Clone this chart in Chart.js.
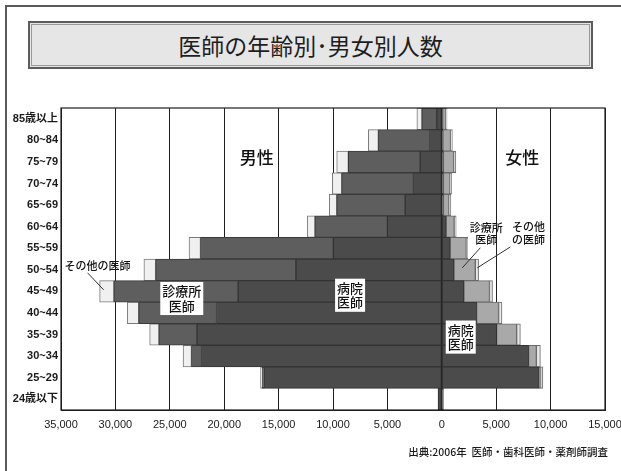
<!DOCTYPE html>
<html lang="ja">
<head>
<meta charset="utf-8">
<title>医師の年齢別・男女別人数</title>
<script src="https://cdn.jsdelivr.net/npm/chart.js@4.4.1/dist/chart.umd.min.js"></script>
<style>
  html, body { margin: 0; padding: 0; background: #fff; }
  #page { position: relative; width: 621px; height: 471px; overflow: hidden; background: #fff; }
  #frame { position: absolute; left: 5px; top: 5px; width: 640px; height: 500px;
           border-top: 2px solid #5a5a5a; border-left: 2px solid #5a5a5a; }
  #title { position: absolute; left: 28px; top: 21px; width: 565px; height: 48px; box-sizing: border-box;
           background: #e6e6e6; border: 2px solid #5c5c5c; outline: 1px solid #9a9a9a; outline-offset: -4px;
           font-family: "Noto Sans CJK JP", sans-serif; font-size: 23px; color: #1e1e1e;
           text-align: center; line-height: 44px; }
  #source { position: absolute; right: 13px; top: 444px; font-family: "Noto Sans CJK JP", sans-serif;
            font-size: 10.5px; font-weight: 500; color: #1a1a1a; white-space: pre; }
  canvas { position: absolute; left: 0; top: 0; }
</style>
</head>
<body>
<div id="page">
  <div id="frame"></div>
  <div id="title">医師の年齢別･男女別人数</div>
  <canvas id="chart" width="621" height="471"></canvas>
  <div id="source">出典:2006年  医師・歯科医師・薬剤師調査</div>
</div>
<script>
// Age groups, oldest at the top
const ageGroups = ['85歳以上', '80~84', '75~79', '70~74', '65~69', '60~64', '55~59',
                   '50~54', '45~49', '40~44', '35~39', '30~34', '25~29', '24歳以下'];

// Male doctors (persons) by workplace
const maleHospital = [460, 1130, 1990, 2610, 3370, 5000, 9970, 13410, 18720, 20710, 22500, 22090, 16350, 350];
const maleClinic   = [1370, 4700, 6600, 6590, 6290, 6660, 12210, 12890, 11420, 7150, 3500, 920, 150, 0];
const maleOther    = [460, 920, 1070, 860, 680, 710, 1050, 1080, 1310, 1040, 850, 770, 160, 0];

// Female doctors (persons) by workplace
const femaleHospital = [80, 100, 150, 150, 150, 400, 770, 1120, 2030, 3200, 5040, 7980, 8950, 150];
const femaleClinic   = [300, 700, 950, 600, 500, 740, 1480, 1960, 2350, 2020, 1840, 710, 120, 0];
const femaleOther    = [100, 170, 190, 150, 180, 180, 140, 300, 280, 310, 340, 370, 220, 0];

// Axis range
const axisMin = -35000, axisMax = 15000, axisStep = 5000;

const neg = arr => arr.map(v => -v);

const barStyle = (fill, edge) => ({
  backgroundColor: fill, borderColor: edge, borderWidth: 1, borderSkipped: false,
  barPercentage: 1.0, categoryPercentage: 1.0, stack: 'all'
});

const datasets = [
  { label: '病院医師(男)',   data: neg(maleHospital), ...barStyle('#4b4b4b', '#333333') },
  { label: '診療所医師(男)', data: neg(maleClinic),   ...barStyle('#5e5e5e', '#3a3a3a') },
  { label: 'その他の医師(男)', data: neg(maleOther),  ...barStyle('#f0f0f0', '#7a7a7a') },
  { label: '病院医師(女)',   data: femaleHospital,    ...barStyle('#4b4b4b', '#333333') },
  { label: '診療所医師(女)', data: femaleClinic,      ...barStyle('#a9a9a9', '#6a6a6a') },
  { label: 'その他の医師(女)', data: femaleOther,     ...barStyle('#e6e6e6', '#6a6a6a') }
];

// Labels placed in data units: x = persons, y = age-group index
const notes = [
  { text: ['男性'], x: -17000, y: 1.81, size: 17, weight: '500', box: false },
  { text: ['女性'], x: 7400, y: 1.81, size: 17, weight: '500', box: false },
  { text: ['診療所', '医師'], x: -23900, y: 8.33, size: 13, weight: '500', box: true },
  { text: ['病院', '医師'], x: -8430, y: 8.18, size: 13, weight: '500', box: true },
  { text: ['病院', '医師'], x: 1740, y: 10.12, size: 13, weight: '500', box: true },
  { text: ['診療所', '医師'], x: 4090, y: 5.33, size: 11, weight: '500', box: false },
  { text: ['その他', 'の医師'], x: 7960, y: 5.31, size: 11, weight: '500', box: false },
  { text: ['その他の医師'], x: -31640, y: 6.81, size: 11, weight: '500', box: false }
];
const leaders = [
  { x1: 3540, y1: 5.98, x2: 1880, y2: 6.91 },
  { x1: 6300, y1: 5.94, x2: 3260, y2: 6.91 },
  { x1: -32560, y1: 7.14, x2: -31080, y2: 7.93 }
];

const notesPlugin = {
  id: 'notes',
  afterDraw(chart) {
    const { ctx, chartArea: a, scales: { x, y } } = chart;
    ctx.save();
    // plot frame
    ctx.strokeStyle = '#1e1e1e';
    ctx.lineWidth = 1.2;
    ctx.strokeRect(a.left, a.top, a.right - a.left, a.bottom - a.top);
    // leader lines
    ctx.strokeStyle = '#333';
    ctx.lineWidth = 1;
    leaders.forEach(l => {
      ctx.beginPath();
      ctx.moveTo(x.getPixelForValue(l.x1), y.getPixelForValue(l.y1));
      ctx.lineTo(x.getPixelForValue(l.x2), y.getPixelForValue(l.y2));
      ctx.stroke();
    });
    // text labels
    notes.forEach(n => {
      const cx = x.getPixelForValue(n.x), cy = y.getPixelForValue(n.y);
      ctx.font = `${n.weight} ${n.size}px "Noto Sans CJK JP", sans-serif`;
      const lh = n.size * 1.12;
      const w = Math.max(...n.text.map(t => ctx.measureText(t).width));
      const h = lh * n.text.length;
      if (n.box) {
        ctx.fillStyle = '#ffffff';
        ctx.fillRect(cx - w / 2 - 2, cy - h / 2 - 2, w + 4, h + 4);
      }
      ctx.fillStyle = '#111';
      ctx.textAlign = 'center';
      ctx.textBaseline = 'middle';
      n.text.forEach((t, i) => ctx.fillText(t, cx, cy - h / 2 + lh * (i + 0.5)));
    });
    ctx.restore();
  }
};

new Chart(document.getElementById('chart'), {
  type: 'bar',
  data: { labels: ageGroups, datasets },
  options: {
    indexAxis: 'y',
    responsive: false,
    animation: false,
    layout: { padding: { top: 108, right: 16, bottom: 21, left: 0 } },
    plugins: { legend: { display: false }, tooltip: { enabled: false }, title: { display: false } },
    scales: {
      x: {
        stacked: true,
        min: axisMin, max: axisMax,
        afterFit(s) { s.height = 40; s.paddingLeft = 0; s.paddingRight = 0; },
        border: { display: true, color: '#1e1e1e', width: 1 },
        grid: { color: '#1e1e1e', lineWidth: 1, drawTicks: false },
        ticks: {
          stepSize: axisStep,
          padding: 8,
          color: '#1a1a1a',
          font: { family: '"Liberation Sans Narrow", "Liberation Sans", sans-serif', size: 11 },
          callback: v => Math.abs(v).toLocaleString('en-US')
        }
      },
      y: {
        stacked: true,
        afterFit(s) { s.width = 61; },
        border: { display: true, color: '#1e1e1e', width: 1 },
        grid: { display: false, drawTicks: false },
        ticks: {
          padding: 3,
          color: '#1a1a1a',
          autoSkip: false,
          font: { family: '"Liberation Sans", "Noto Sans CJK JP", sans-serif', size: 11, weight: 'bold' }
        }
      }
    }
  },
  plugins: [notesPlugin]
});
</script>
</body>
</html>
